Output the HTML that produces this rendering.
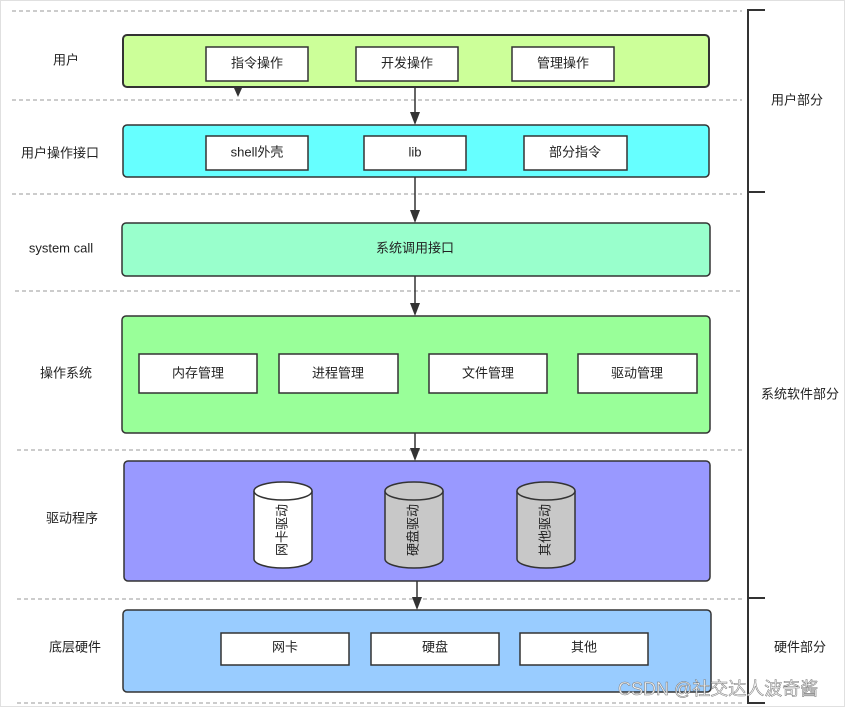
<!DOCTYPE html>
<html><head><meta charset="utf-8"><style>
body{margin:0;background:#fff;}
svg text{font-family:"Liberation Sans","Noto Sans CJK SC",sans-serif;font-size:13px;fill:#222;}
</style></head><body>
<svg width="845" height="707" viewBox="0 0 845 707" xmlns="http://www.w3.org/2000/svg">
<rect x="0.5" y="0.5" width="844" height="706" fill="#fff" stroke="#e0e0e0"/>
<g stroke="#999" stroke-dasharray="4,3" stroke-width="1">
<line x1="12" y1="11" x2="742" y2="11"/><line x1="12" y1="100" x2="742" y2="100"/><line x1="12" y1="194" x2="742" y2="194"/><line x1="15" y1="291" x2="742" y2="291"/><line x1="17" y1="450" x2="742" y2="450"/><line x1="17" y1="599" x2="742" y2="599"/><line x1="17" y1="703" x2="742" y2="703"/>
</g>
<g stroke="#333" stroke-width="2" fill="none">
<path d="M765,10 H748 V703 H765"/><line x1="748" y1="192" x2="765" y2="192"/><line x1="748" y1="598" x2="765" y2="598"/>
</g>
<g stroke="#333" stroke-width="2">
<rect x="123" y="35" width="586" height="52" rx="4" fill="#ccff99"/>
<rect x="123" y="125" width="586" height="52" rx="4" fill="#66ffff" stroke-width="1.5"/>
<rect x="122" y="223" width="588" height="53" rx="4" fill="#99ffcc" stroke-width="1.5"/>
<rect x="122" y="316" width="588" height="117" rx="4" fill="#99ff99" stroke-width="1.5"/>
<rect x="124" y="461" width="586" height="120" rx="4" fill="#9999ff" stroke-width="1.5"/>
<rect x="123" y="610" width="588" height="82" rx="4" fill="#99ccff" stroke-width="1.5"/>
</g>
<g fill="#fff" stroke="#333" stroke-width="1.5">
<rect x="206" y="47" width="102" height="34"/><rect x="356" y="47" width="102" height="34"/><rect x="512" y="47" width="102" height="34"/>
<rect x="206" y="136" width="102" height="34"/><rect x="364" y="136" width="102" height="34"/><rect x="524" y="136" width="103" height="34"/>
<rect x="139" y="354" width="118" height="39"/><rect x="279" y="354" width="119" height="39"/><rect x="429" y="354" width="118" height="39"/><rect x="578" y="354" width="119" height="39"/>
<rect x="221" y="633" width="128" height="32"/><rect x="371" y="633" width="128" height="32"/><rect x="520" y="633" width="128" height="32"/>
</g>
<g stroke="#333" stroke-width="1.5">
<path d="M254,491 V559 A29,9 0 0 0 312,559 V491" fill="#fff"/><ellipse cx="283" cy="491" rx="29" ry="9" fill="#fff"/>
<path d="M385,491 V559 A29,9 0 0 0 443,559 V491" fill="#c8c8c8"/><ellipse cx="414" cy="491" rx="29" ry="9" fill="#c8c8c8"/>
<path d="M517,491 V559 A29,9 0 0 0 575,559 V491" fill="#c8c8c8"/><ellipse cx="546" cy="491" rx="29" ry="9" fill="#c8c8c8"/>
</g>
<g stroke="#333" stroke-width="1.5">
<line x1="415" y1="87" x2="415" y2="114"/><line x1="415" y1="177" x2="415" y2="212"/><line x1="415" y1="276" x2="415" y2="305"/><line x1="415" y1="433" x2="415" y2="450"/><line x1="417" y1="581" x2="417" y2="599"/>
</g>
<g fill="#333">
<path d="M410,112 L420,112 L415,125z"/><path d="M410,210 L420,210 L415,223z"/><path d="M410,303 L420,303 L415,316z"/><path d="M410,448 L420,448 L415,461z"/><path d="M412,597 L422,597 L417,610z"/>
<path d="M234,88 L242,88 L238,97z"/>
</g>
<g text-anchor="middle" dominant-baseline="middle">
<text x="66" y="61">用户</text><text x="60" y="154">用户操作接口</text><text x="61" y="249">system call</text><text x="66" y="374">操作系统</text><text x="72" y="519">驱动程序</text><text x="75" y="648">底层硬件</text>
<text x="257" y="64">指令操作</text><text x="407" y="64">开发操作</text><text x="563" y="64">管理操作</text>
<text x="257" y="153">shell外壳</text><text x="415" y="153">lib</text><text x="575" y="153">部分指令</text>
<text x="415" y="249">系统调用接口</text>
<text x="198" y="374">内存管理</text><text x="338" y="374">进程管理</text><text x="488" y="374">文件管理</text><text x="637" y="374">驱动管理</text>
<text x="285" y="648">网卡</text><text x="435" y="648">硬盘</text><text x="584" y="648">其他</text>
<text x="797" y="101">用户部分</text><text x="800" y="395">系统软件部分</text><text x="800" y="648">硬件部分</text>
<text transform="translate(283,530) rotate(-90)">网卡驱动</text>
<text transform="translate(414,530) rotate(-90)">硬盘驱动</text>
<text transform="translate(546,530) rotate(-90)">其他驱动</text>
</g>
<text x="618" y="695" style="font-size:18px;fill:#f4f4f4;stroke:#777;stroke-width:0.5">CSDN @社交达人波奇酱</text>
</svg>
</body></html>
